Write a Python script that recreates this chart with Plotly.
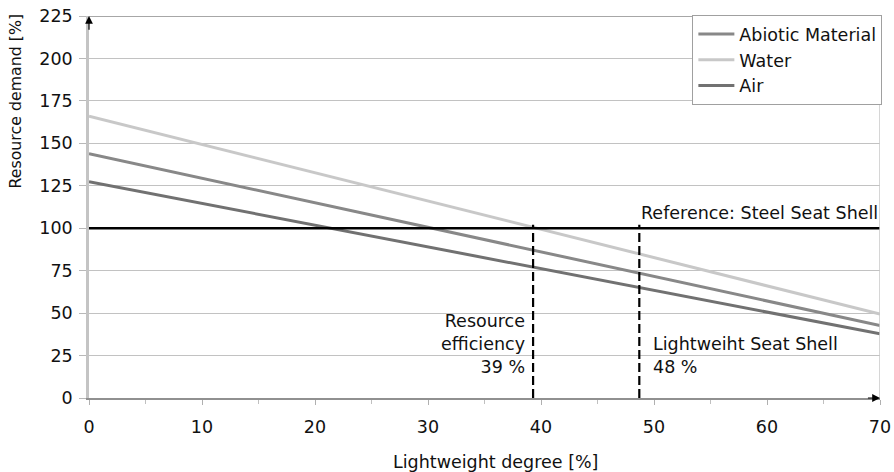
import plotly.graph_objects as go

# Lightweight degree [%] at both ends of each resource line
degree = [0, 70]
abiotic = [143.9, 42.7]
water = [166.0, 49.4]
air = [127.4, 37.8]

reference_level = 100
efficiency_degree = 39.3
seat_shell_degree = 48.7
marker_top = 102

x_ticks = [0, 10, 20, 30, 40, 50, 60, 70]
y_ticks = [0, 25, 50, 75, 100, 125, 150, 175, 200, 225]

FONT = "DejaVu Sans, sans-serif"
FS = 17.5
TXT = "#111111"

fig = go.Figure()

series = [
    ("Abiotic Material", abiotic, "#888888"),
    ("Water", water, "#c8c8c8"),
    ("Air", air, "#717171"),
]
for name, vals, color in series:
    fig.add_trace(go.Scatter(x=degree, y=vals, mode="lines", name=name,
                             line=dict(color=color, width=3)))

# reference level
fig.add_trace(go.Scatter(x=[-0.8, 70], y=[reference_level, reference_level], mode="lines",
                         line=dict(color="black", width=2.5), showlegend=False,
                         hoverinfo="skip", cliponaxis=False))

# vertical markers
for xv in (efficiency_degree, seat_shell_degree):
    fig.add_trace(go.Scatter(x=[xv, xv], y=[0, marker_top], mode="lines",
                             line=dict(color="black", width=2.2, dash="9px,4px"),
                             showlegend=False, hoverinfo="skip"))

# frame on top and right
fig.add_shape(type="line", xref="x", yref="y", x0=0, x1=70, y0=225, y1=225,
              line=dict(color="#8a8a8a", width=1.5))
fig.add_shape(type="line", xref="x", yref="y", x0=70, x1=70, y0=0, y1=225,
              line=dict(color="#c8c8c8", width=1.5))

# axis arrows
fig.add_annotation(x=0, y=225, ax=0, ay=216, xref="x", yref="y", axref="x", ayref="y",
                   showarrow=True, arrowhead=2, arrowsize=1.3, arrowwidth=1.2,
                   arrowcolor="black", text="")
fig.add_annotation(x=70, y=0, ax=68.8, ay=0, xref="x", yref="y", axref="x", ayref="y",
                   showarrow=True, arrowhead=2, arrowsize=1.3, arrowwidth=1.2,
                   arrowcolor="black", text="")

txt = dict(family=FONT, size=FS, color=TXT)
fig.add_annotation(x=70, y=reference_level, xref="x", yref="y", text="Reference: Steel Seat Shell",
                   showarrow=False, xanchor="right", yanchor="bottom", yshift=3, font=txt)
fig.add_annotation(x=efficiency_degree, y=31.6, xref="x", yref="y",
                   text="Resource<br>efficiency<br>39 %", align="right",
                   showarrow=False, xanchor="right", yanchor="middle", xshift=-6, font=txt)
fig.add_annotation(x=seat_shell_degree, y=25.2, xref="x", yref="y",
                   text="Lightweiht Seat Shell<br>48 %", align="left",
                   showarrow=False, xanchor="left", yanchor="middle", xshift=12, font=txt)

# axis titles
fig.add_annotation(x=0.5145, y=-0.1675, xref="paper", yref="paper", text="Lightweight degree [%]",
                   showarrow=False, xanchor="center", yanchor="middle", font=txt)
fig.add_annotation(x=0.0, y=0.776, xref="paper", yref="paper", xshift=-73,
                   text="Resource demand [%]", textangle=-90, showarrow=False,
                   xanchor="center", yanchor="middle",
                   font=dict(family=FONT, size=15.8, color=TXT))

fig.update_layout(
    width=894, height=472,
    margin=dict(l=89, r=14, t=16, b=74, autoexpand=False),
    paper_bgcolor="white", plot_bgcolor="white",
    font=dict(family=FONT, size=FS, color=TXT),
    showlegend=True,
    legend=dict(x=1.003, y=1.002, xanchor="right", yanchor="top", bgcolor="white",
                bordercolor="#a0a0a0", borderwidth=1, font=dict(size=FS),
                tracegroupgap=0, itemwidth=36),
    xaxis=dict(range=[0, 70], tickvals=x_ticks, showgrid=False, zeroline=False,
               automargin=False,
               showline=True, linecolor="#909090", linewidth=1.5,
               ticks="outside", ticklen=5, tickcolor="#b0b0b0",
               ticklabelstandoff=7,
               minor=dict(tickvals=[5, 15, 25, 35, 45, 55, 65], ticks="outside",
                          ticklen=4, tickcolor="#c0c0c0")),
    yaxis=dict(range=[0, 225], tickvals=y_ticks, showgrid=True, gridcolor="#c2c2c2",
               automargin=False,
               gridwidth=1, zeroline=False, showline=True, linecolor="#c4c4c4",
               linewidth=2.5, ticks="outside", ticklen=7, tickcolor="#b8b8b8",
               ticklabelstandoff=3),
)

fig.write_html("out.html")
